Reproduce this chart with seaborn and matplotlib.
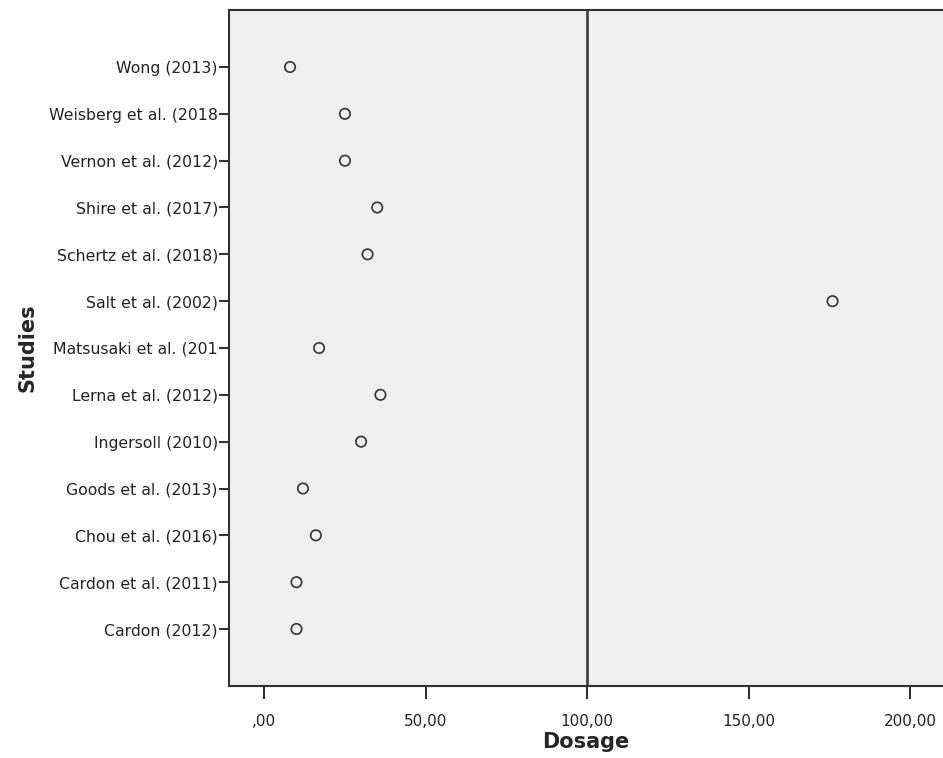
import matplotlib
matplotlib.use("Agg")
import matplotlib.pyplot as plt
import seaborn as sns
import pandas as pd

studies = ["Wong (2013)", "Weisberg et al. (2018", "Vernon et al. (2012)",
           "Shire et al. (2017)", "Schertz et al. (2018)", "Salt et al. (2002)",
           "Matsusaki et al. (201", "Lerna et al. (2012)", "Ingersoll (2010)",
           "Goods et al. (2013)", "Chou et al. (2016)", "Cardon et al. (2011)",
           "Cardon (2012)"]
dosage = [8, 25, 25, 35, 32, 176, 17, 36, 30, 12, 16, 10, 10]
xticks = [0, 50, 100, 150, 200]
xtick_labels = [",00", "50,00", "100,00", "150,00", "200,00"]
ref_line = 100

df = pd.DataFrame({"Studies": studies, "Dosage": dosage})

sns.set_style("white")
plt.rcParams["font.family"] = ["DejaVu Sans"]

fig = plt.figure(figsize=(9.43, 7.58), dpi=100)
ax = fig.add_axes([229/943, 1-686/758, 1-229/943, (686-10)/758])
ax.set_facecolor("#efefef")

sns.stripplot(data=df, x="Dosage", y="Studies", order=studies, jitter=False,
              ax=ax, marker="o", size=7.5, facecolor="none",
              edgecolor="#333333", linewidth=1.2, color="none", zorder=3)
for coll in ax.collections:
    coll.set_facecolor("none")
    coll.set_edgecolor("#333333")
    coll.set_linewidth(1.2)

ax.axvline(ref_line, color="#444444", lw=2, zorder=2)

ax.set_xlim(-10.9, 210.2)
ax.set_ylim(len(studies) - 1 + 1.217, -1.217)
ax.set_xticks(xticks)
ax.set_xticklabels(xtick_labels, fontsize=11, color="#222222")
ax.tick_params(axis="x", length=9, width=1.5, color="#333333", direction="out", pad=11)
ax.tick_params(axis="y", length=7, width=1.5, color="#333333", direction="out", pad=1, labelsize=11.3, labelcolor="#222222")
ax.tick_params(bottom=True, left=True)

for s in ["left", "bottom", "top"]:
    ax.spines[s].set_visible(True)
    ax.spines[s].set_color("#333333")
    ax.spines[s].set_linewidth(1.5)
ax.spines["right"].set_visible(False)

ax.set_xlabel("Dosage", fontsize=15, fontweight="bold", labelpad=2)
ax.set_ylabel("Studies", fontsize=15, fontweight="bold", labelpad=8)

fig.savefig("out.png", dpi=100)
